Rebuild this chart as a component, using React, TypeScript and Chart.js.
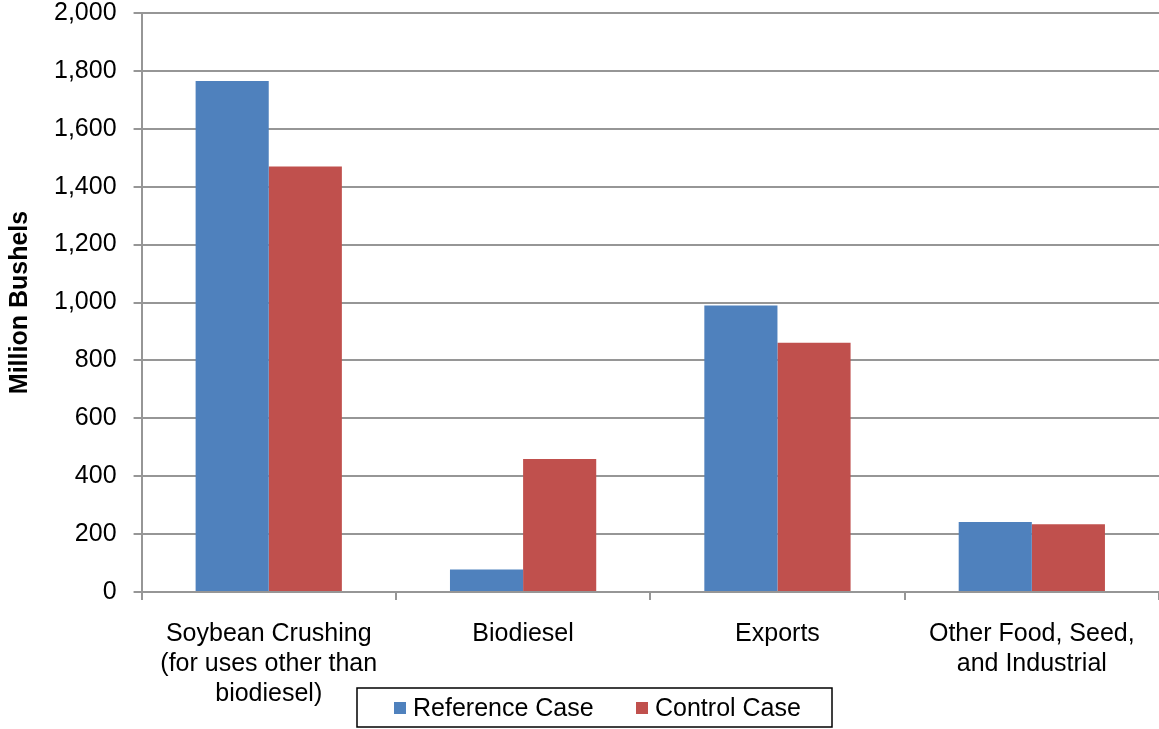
import React, { useEffect, useRef } from "react";
import { Chart, registerables } from "chart.js";

Chart.register(...registerables);

// Soybean use categories (multi-line axis labels)
const categories: string[][] = [
  ["Soybean Crushing", "(for uses other than", "biodiesel)"],
  ["Biodiesel"],
  ["Exports"],
  ["Other Food, Seed,", "and Industrial"],
];

// Million bushels by case
const referenceCase: number[] = [1765, 78, 990, 242];
const controlCase: number[] = [1470, 459, 861, 234];

const seriesNames = ["Reference Case", "Control Case"];
const seriesColors = ["#4F81BD", "#C0504D"];

const yMin = 0;
const yMax = 2000;
const yStep = 200;

const FONT = "'Liberation Sans', Arial, sans-serif";
const GRID = "#969696";

// The canvas is lifted so the top gridline sits near the page edge
const LIFT = 19;
const WIDTH = 1159;
const HEIGHT = 729 + LIFT;

// Boxed legend drawn below the plot, overlapping the label band
const boxedLegend = {
  id: "boxedLegend",
  afterDraw(chart: Chart) {
    const ctx = chart.ctx;
    ctx.save();
    const bx = 357;
    const by = 688 + LIFT;
    const bw = 475;
    const bh = 39;
    ctx.lineWidth = 1.5;
    ctx.strokeStyle = "#000";
    ctx.strokeRect(bx, by, bw, bh);
    ctx.font = `25px ${FONT}`;
    ctx.textBaseline = "middle";
    ctx.textAlign = "left";
    const items = [
      { sx: 394, tx: 413 },
      { sx: 636, tx: 655 },
    ];
    chart.data.datasets.forEach((ds, i) => {
      const it = items[i];
      ctx.fillStyle = ds.backgroundColor as string;
      ctx.fillRect(it.sx, 702 + LIFT, 12, 12);
      ctx.fillStyle = "#000";
      ctx.fillText(ds.label as string, it.tx, 709 + LIFT);
    });
    ctx.restore();
  },
};

export default function App() {
  const canvasRef = useRef<HTMLCanvasElement | null>(null);

  useEffect(() => {
    const canvas = canvasRef.current;
    if (!canvas) return;
    const chart = new Chart(canvas, {
      type: "bar",
      data: {
        labels: categories,
        datasets: [
          {
            label: seriesNames[0],
            data: referenceCase,
            backgroundColor: seriesColors[0],
            borderWidth: 0,
          },
          {
            label: seriesNames[1],
            data: controlCase,
            backgroundColor: seriesColors[1],
            borderWidth: 0,
          },
        ],
      },
      options: {
        responsive: false,
        animation: false,
        datasets: {
          bar: { categoryPercentage: 0.575, barPercentage: 1 },
        },
        layout: { padding: { top: 0, right: 0, bottom: 1, left: 0 } },
        plugins: {
          legend: { display: false },
          tooltip: { enabled: false },
        },
        scales: {
          x: {
            grid: {
              display: true,
              drawOnChartArea: false,
              drawTicks: true,
              tickLength: 8,
              color: GRID,
              lineWidth: 2,
            },
            border: { display: true, color: GRID, width: 2 },
            ticks: {
              color: "#000",
              padding: 19,
              maxRotation: 0,
              autoSkip: false,
              font: { family: FONT, size: 25, lineHeight: 1.2 },
            },
          },
          y: {
            min: yMin,
            max: yMax,
            grid: {
              color: GRID,
              lineWidth: 2,
              drawTicks: true,
              tickLength: 8,
            },
            border: { display: true, color: GRID, width: 2 },
            ticks: {
              stepSize: yStep,
              color: "#000",
              padding: 17,
              font: { family: FONT, size: 25 },
              callback: (v) => Number(v).toLocaleString("en-US"),
            },
            title: {
              display: true,
              text: "Million Bushels",
              color: "#000",
              font: { family: FONT, size: 25, weight: "bold" },
              padding: { top: 5, bottom: 2 },
            },
          },
        },
      },
      plugins: [boxedLegend],
    });
    return () => chart.destroy();
  }, []);

  return (
    <div
      style={{
        position: "absolute",
        left: 0,
        top: -LIFT,
        width: WIDTH,
        height: HEIGHT,
        background: "#fff",
      }}
    >
      <canvas ref={canvasRef} width={WIDTH} height={HEIGHT} />
    </div>
  );
}
